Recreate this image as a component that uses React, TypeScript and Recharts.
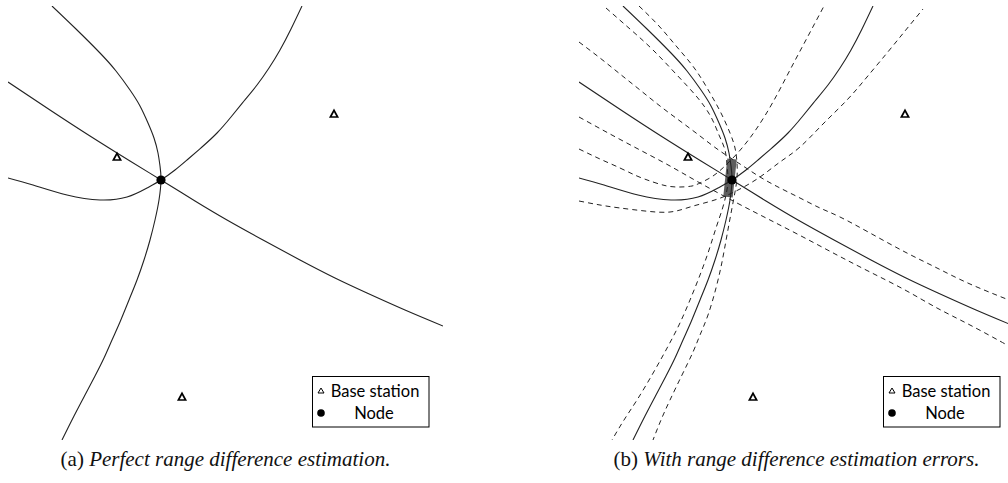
import React from 'react';
import { ComposedChart, Line, Scatter, XAxis, YAxis } from 'recharts';

type Pt = [number, number];

// Curves in a shared local coordinate frame (both panels use identical geometry)
const solidA: Pt[] = [[52,6],[76,29],[100,53],[116,71],[130,90],[140,106],[148,123],[154,138],[158,153],[160,166],[161,180],[159,200],[155,220],[150,240],[144,260],[137,280],[129,300],[120,322],[112,340],[104,358],[95,376],[85,395],[74,416],[62,440]];
const solidB: Pt[] = [[8,178],[33,185],[67,195],[100,200],[127,197],[147,188],[161,180],[175,170],[187,160],[202,147],[217,133],[231,117],[244,101],[257,85],[269,68],[280,50],[291,29],[302,6]];
const solidC: Pt[] = [[8,82],[50,110],[90,136],[130,161],[161,180],[195,201],[227,220],[263,240],[300,260],[335,278],[367,293],[405,310],[443,326]];

const dashALeft: Pt[] = [[35,8],[59,29],[82,50],[105,74],[126,97],[140,117],[148,135],[154,150],[156,165],[157,180],[155,195],[151,210],[145,228],[138,250],[129,275],[119,300],[108,325],[95,350],[81,375],[66,400],[53,420],[41,440]];
const dashARight: Pt[] = [[68,6],[88,26],[106,47],[124,69],[139,93],[150,113],[159,133],[164,148],[166,163],[166,178],[164,192],[161,208],[156,235],[151,262],[145,288],[137,315],[129,335],[122,352],[111,375],[99,400],[90,420],[82,440]];
const dashBUpper: Pt[] = [[8,149],[29,159],[49,168],[66,176],[82,182],[96,186],[109,187],[121,186],[129,183],[142,176],[156,164],[171,148],[186,128],[202,102],[219,70],[236,38],[253,6]];
const dashBLower: Pt[] = [[8,201],[29,205],[49,208],[74,211],[99,212],[119,207],[137,202],[152,197],[169,189],[189,177],[209,162],[229,147],[252,124],[276,100],[296,77],[316,53],[334,31],[352,9]];
const dashCUpper: Pt[] = [[8,42],[29,58],[49,74],[69,90],[89,106],[109,121],[129,136],[149,151],[169,164],[189,177],[209,188],[229,198],[249,208],[269,217],[299,233],[334,252],[366,268],[399,284],[443,302]];
const dashCLower: Pt[] = [[8,117],[39,134],[69,150],[99,166],[129,183],[166,203],[199,220],[232,237],[266,255],[299,272],[334,290],[366,308],[399,325],[436,345],[443,349]];

const errorRegion: Pt[] = [[161,159],[157,197]];
const baseStations: Pt[] = [[117,157],[334,114],[182,397]];
const nodes: Pt[] = [[161,180]];

const xDomain: [number, number] = [8, 443];
const yDomain: [number, number] = [6, 440];

const legendLabels = ['Base station', 'Node'];
const captionTags = ['(a)', '(b)'];
const captionTexts = ['Perfect range difference estimation.', 'With range difference estimation errors.'];

const toObj = (pts: Pt[]) => pts.map(([x, y]) => ({ x, y }));

const Triangle = (props: any) => {
  const { cx, cy } = props;
  if (cx == null || cy == null) return null;
  return (
    <polygon
      points={`${cx - 3.6},${cy + 3} ${cx + 3.6},${cy + 3} ${cx},${cy - 3.6}`}
      fill="#fff"
      stroke="#000"
      strokeWidth={1.7}
    />
  );
};

const Dot = (props: any) => {
  const { cx, cy } = props;
  if (cx == null || cy == null) return null;
  return <circle cx={cx} cy={cy} r={4.6} fill="#000" />;
};

const lineProps = {
  type: 'natural' as const,
  dataKey: 'y',
  dot: false,
  activeDot: false,
  isAnimationActive: false,
  legendType: 'none' as const,
};

function Panel({ withErrors }: { withErrors: boolean }) {
  return (
    <ComposedChart width={435} height={434} margin={{ top: 0, right: 0, bottom: 0, left: 0 }}>
      <XAxis type="number" dataKey="x" domain={xDomain} hide allowDataOverflow />
      <YAxis type="number" dataKey="y" domain={yDomain} reversed hide allowDataOverflow />
      {withErrors && (
        <Line {...lineProps} type="linear" data={toObj(errorRegion)} stroke="#555" strokeWidth={9.5} strokeOpacity={0.95} />
      )}
      {withErrors &&
        [dashALeft, dashARight, dashBUpper, dashBLower, dashCUpper, dashCLower].map((d, i) => (
          <Line key={`d${i}`} {...lineProps} data={toObj(d)} stroke="#222" strokeWidth={1} strokeDasharray="5 4" />
        ))}
      {[solidA, solidB, solidC].map((d, i) => (
        <Line key={`s${i}`} {...lineProps} data={toObj(d)} stroke="#222" strokeWidth={1.1} />
      ))}
      <Scatter name={legendLabels[0]} data={toObj(baseStations)} shape={<Triangle />} isAnimationActive={false} />
      <Scatter name={legendLabels[1]} data={toObj(nodes)} shape={<Dot />} isAnimationActive={false} />
    </ComposedChart>
  );
}

function LegendBox({ left }: { left: number }) {
  return (
    <svg width={118} height={52} style={{ position: 'absolute', left, top: 376 }}>
      <rect x={0.5} y={0.5} width={116.5} height={50.5} fill="#fff" stroke="#000" strokeWidth={1} />
      <polygon points="6,17 12,17 9,12" fill="#fff" stroke="#000" strokeWidth={1} />
      <text x={63} y={14.5} textAnchor="middle" dominantBaseline="central" fontFamily="Lato" fontSize={16.5} fill="#000">
        {legendLabels[0]}
      </text>
      <circle cx={9} cy={37} r={3.8} fill="#000" />
      <text x={62} y={37} textAnchor="middle" dominantBaseline="central" fontFamily="Lato" fontSize={16.5} fill="#000">
        {legendLabels[1]}
      </text>
    </svg>
  );
}

function Caption({ left, idx }: { left: number; idx: number }) {
  return (
    <div
      style={{
        position: 'absolute',
        left,
        top: 447,
        width: 435,
        textAlign: 'center',
        fontFamily: '"Liberation Serif", serif',
        fontSize: 21,
        color: '#111',
        whiteSpace: 'nowrap',
      }}
    >
      {captionTags[idx]} <i>{captionTexts[idx]}</i>
    </div>
  );
}

export default function App() {
  return (
    <div style={{ position: 'absolute', left: 0, top: 0, width: 1008, height: 483, overflow: 'hidden', background: '#fff' }}>
      <div style={{ position: 'absolute', left: 8, top: 6 }}>
        <Panel withErrors={false} />
      </div>
      <div style={{ position: 'absolute', left: 579, top: 6 }}>
        <Panel withErrors={true} />
      </div>
      <LegendBox left={312} />
      <LegendBox left={883} />
      <Caption left={8} idx={0} />
      <Caption left={579} idx={1} />
    </div>
  );
}
